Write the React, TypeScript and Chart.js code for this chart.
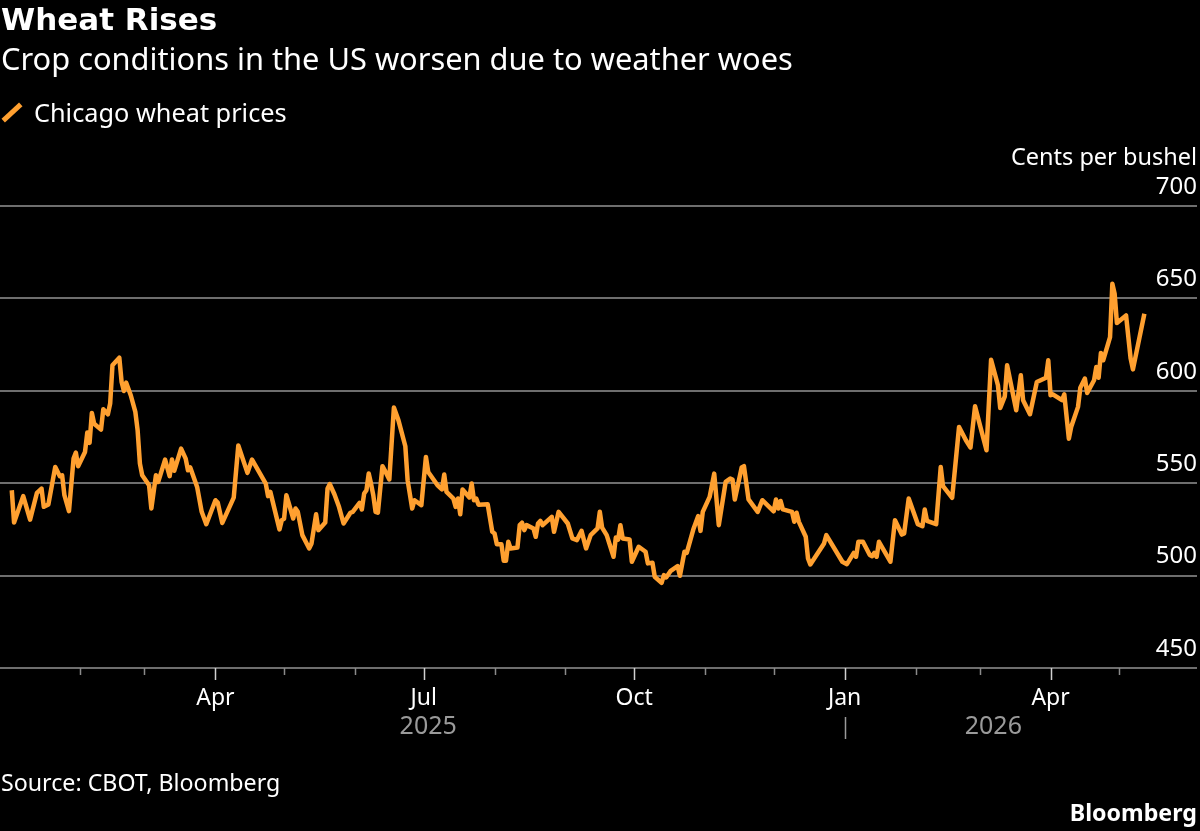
import React, { useEffect, useRef } from "react";
import { Chart, registerables } from "chart.js";

Chart.register(...registerables);

// days since 2025-01-01
const days = [
  1, 2, 6, 9, 12, 14, 15, 17, 20, 22, 23, 24, 26, 28, 29, 30, 33, 34, 35, 36, 37, 40, 41, 43, 44, 45, 48, 49, 50, 51,
  53, 55, 56, 57, 58, 61, 62, 64, 65, 68, 70, 71, 72, 75, 77, 78, 79, 82, 84, 86, 90, 91, 93, 98, 100, 104, 106, 112,
  113, 114, 118, 119, 120, 121, 124, 125, 126, 128, 131, 132, 134, 135, 138, 139, 140, 142, 144, 146, 149, 150, 153,
  154, 155, 156, 157, 158, 159, 160, 161, 163, 164, 166, 168, 170, 173, 174, 176, 177, 180, 182, 183, 187, 189, 190,
  191, 194, 195, 196, 197, 198, 201, 202, 203, 204, 205, 209, 211, 212, 213, 215, 216, 217, 218, 219, 222, 223, 224,
  225, 226, 229, 230, 231, 232, 233, 237, 238, 240, 244, 246, 248, 250, 252, 254, 257, 258, 259, 261, 264, 265, 266,
  267, 268, 271, 272, 273, 275, 278, 279, 281, 282, 285, 286, 287, 289, 292, 293, 295, 296, 299, 301, 302, 303, 306,
  308, 310, 313, 315, 316, 317, 320, 321, 323, 327, 329, 334, 335, 336, 337, 338, 342, 343, 344, 345, 348, 349, 350,
  356, 357, 364, 366, 369, 370, 371, 373, 376, 377, 378, 379, 380, 385, 387, 390, 391, 393, 397, 399, 400, 401, 405,
  407, 408, 412, 415, 418, 420, 422, 427, 429, 432, 433, 435, 436, 440, 442, 443, 446, 449, 453, 454, 455, 456, 460,
  461, 463, 464, 467, 468, 470, 471, 474, 475, 476, 477, 478, 481, 482, 483, 484, 488, 490, 491, 496,
];

const prices = [
  546.2, 528.7, 543, 530.3, 544.8, 547.1, 537.2, 538.5, 558.8, 553.8, 554.3, 543.5, 534.9, 563.3, 566.6, 559.2, 566.9,
  577.4, 571.8, 588, 582.2, 579, 590, 587.3, 593.1, 613.8, 617.9, 604.8, 599.9, 604.4, 597.6, 588.6, 578.6, 560.6,
  554.3, 548.9, 536.3, 554.3, 550.7, 562.8, 553.8, 562.8, 556.7, 568.7, 563.3, 557, 558.5, 548, 534.5, 527.8, 540.8,
  539.5, 528.5, 542.2, 570.4, 555.6, 562.8, 549.8, 543, 545.3, 525, 530, 530.7, 543.5, 530.9, 536.3, 534.5, 521.9,
  514.7, 517.4, 533.2, 524.6, 528.7, 547.1, 549.5, 544, 537.2, 528.2, 534, 534.5, 539.4, 535.8, 544.4, 546.2, 555.2,
  549.8, 543.5, 534.5, 534, 559.2, 557, 552, 590.9, 584, 570, 551.6, 536.3, 540.8, 538.1, 564.2, 556.1, 549, 546.6,
  554.7, 545.3, 541.7, 537.2, 541.7, 533.2, 546.6, 542.3, 549.8, 540.8, 541.7, 538.3, 538.6, 523.7, 522.8, 517, 517,
  508, 508, 518.3, 514.7, 515.2, 527.3, 528.6, 524.6, 527.3, 525.5, 521, 528.2, 529.6, 527.3, 531.8, 523.7, 534.5,
  528.2, 520.1, 519.2, 524.2, 514.7, 521.9, 525.5, 534.5, 526, 521.9, 510.2, 520.6, 519.5, 527.3, 520.1, 519.5, 507.5,
  510.2, 515.6, 512.9, 506.6, 507, 499.4, 496.1, 500.3, 499, 502.6, 505.1, 499.9, 512.9, 512.3, 525.5, 532.2, 524.2,
  534.5, 542.6, 555.2, 527.3, 550.7, 552.5, 552, 541.2, 558.5, 559.2, 541.2, 534.5, 540.8, 534.8, 541.2, 536.3, 540.4,
  535.8, 534.5, 529.1, 534, 529.1, 521, 509.3, 506, 517.4, 521.9, 507.5, 506.2, 512.3, 510.2, 518.3, 518.3, 511.1,
  510.5, 512.3, 510.2, 518.3, 507.5, 530, 522.2, 522.8, 541.7, 527.8, 526.7, 535.8, 529.6, 527.8, 558.8, 548.4, 542.1,
  580.4, 573.2, 569.3, 591.6, 567.8, 616.8, 603, 590.7, 597, 613.8, 589.5, 608.4, 594.9, 587.3, 604.8, 607.1, 616.5,
  597.6, 598.1, 594.9, 598.1, 574.1, 580.4, 591.3, 601.7, 606.6, 598.8, 605.7, 612.9, 607.1, 620.5, 616.5, 629.1,
  657.9, 652.5, 636.7, 640.8, 617.4, 611.6, 641.7,
];

const majorTickDays = [90, 181, 273, 365, 455];
const majorTickLabels = ["Apr", "Jul", "Oct", "Jan", "Apr"];
const minorTickDays = [31, 59, 120, 151, 212, 243, 304, 334, 396, 424, 485];
const yearDays = [183, 430];
const yearLabels = ["2025", "2026"];
const yearSeparatorDay = 365;

const FONT = "'Noto Sans', sans-serif";
const ORANGE = "#ffa030";
const GRID = "#6e6e6e";

const textStyle = (top: number, size: number): React.CSSProperties => ({
  position: "absolute",
  top,
  left: 1,
  fontFamily: FONT,
  fontSize: size,
  lineHeight: 1,
  color: "#fff",
  whiteSpace: "nowrap",
});

// ticks of two lengths and the year row under the axis
const axisExtras = {
  id: "axisExtras",
  afterDraw(chart: any) {
    const { ctx, scales, chartArea } = chart;
    const x = scales.x;
    const axisY = chartArea.bottom;
    ctx.save();
    ctx.strokeStyle = "#8a8a8a";
    ctx.lineWidth = 1.5;
    const tick = (day: number, from: number, to: number) => {
      const px = Math.round(x.getPixelForValue(day)) + 0.5;
      ctx.beginPath();
      ctx.moveTo(px, from);
      ctx.lineTo(px, to);
      ctx.stroke();
    };
    minorTickDays.forEach((d) => tick(d, axisY, axisY + 7));
    ctx.strokeStyle = "#d0d0d0";
    majorTickDays.forEach((d) => tick(d, axisY, axisY + 12));
    ctx.strokeStyle = "#9a9a9a";
    tick(yearSeparatorDay, axisY + 49, axisY + 71);
    ctx.fillStyle = "#9a9a9a";
    ctx.font = `25px ${FONT}`;
    ctx.textAlign = "center";
    ctx.textBaseline = "middle";
    yearLabels.forEach((label, i) => ctx.fillText(label, x.getPixelForValue(yearDays[i]), axisY + 59));
    ctx.restore();
  },
};

export default function App() {
  const canvas = useRef<HTMLCanvasElement>(null);

  useEffect(() => {
    const chart = new Chart(canvas.current!.getContext("2d")!, {
      type: "line",
      data: {
        datasets: [
          {
            label: "Chicago wheat prices",
            data: days.map((d, i) => ({ x: d, y: prices[i] })),
            borderColor: ORANGE,
            borderWidth: 4.5,
            borderJoinStyle: "round",
            pointRadius: 0,
            tension: 0,
          },
        ],
      },
      options: {
        responsive: false,
        animation: false,
        layout: { padding: { top: 206, right: 3, bottom: 0, left: 0 } },
        plugins: { legend: { display: false }, title: { display: false }, tooltip: { enabled: false } },
        scales: {
          x: {
            type: "linear",
            min: -4.15,
            max: 519,
            afterFit: (s: any) => {
              s.height = 163;
            },
            afterBuildTicks: (s: any) => {
              s.ticks = majorTickDays.map((value) => ({ value }));
            },
            grid: { display: false },
            border: { display: false },
            ticks: {
              autoSkip: false,
              maxRotation: 0,
              padding: 9,
              color: "#fff",
              font: { family: FONT, size: 23 },
              callback: (v: any) => majorTickLabels[majorTickDays.indexOf(Number(v))] ?? "",
            },
          },
          y: {
            position: "right",
            min: 450,
            max: 700,
            afterFit: (s: any) => {
              s.width = 0;
            },
            grid: { color: GRID, lineWidth: 2, drawTicks: false },
            border: { display: false },
            ticks: {
              stepSize: 50,
              mirror: true,
              padding: 0,
              labelOffset: -19,
              color: "#fff",
              font: { family: FONT, size: 24 },
            },
          },
        },
      },
      plugins: [axisExtras],
    } as any);
    return () => chart.destroy();
  }, []);

  return (
    <div style={{ position: "absolute", top: 0, left: 0, width: 1200, height: 831, background: "#000", overflow: "hidden" }}>
      <canvas ref={canvas} width={1200} height={831} style={{ position: "absolute", top: 0, left: 0 }} />
      <div style={{ ...textStyle(4, 31), fontFamily: "'DejaVu Sans', sans-serif", fontWeight: 700 }}>Wheat Rises</div>
      <div style={textStyle(43, 30.8)}>Crop conditions in the US worsen due to weather woes</div>
      <div
        style={{
          position: "absolute",
          left: 0,
          top: 110,
          width: 24,
          height: 5,
          background: ORANGE,
          transform: "rotate(-43deg)",
        }}
      />
      <div style={{ ...textStyle(100, 25.3), left: 34 }}>Chicago wheat prices</div>
      <div style={{ ...textStyle(145, 23.5), left: "auto", right: 3 }}>Cents per bushel</div>
      <div style={textStyle(771, 23.2)}>Source: CBOT, Bloomberg</div>
      <div style={{ ...textStyle(801, 23.2), left: "auto", right: 3, fontWeight: 700 }}>Bloomberg</div>
    </div>
  );
}
